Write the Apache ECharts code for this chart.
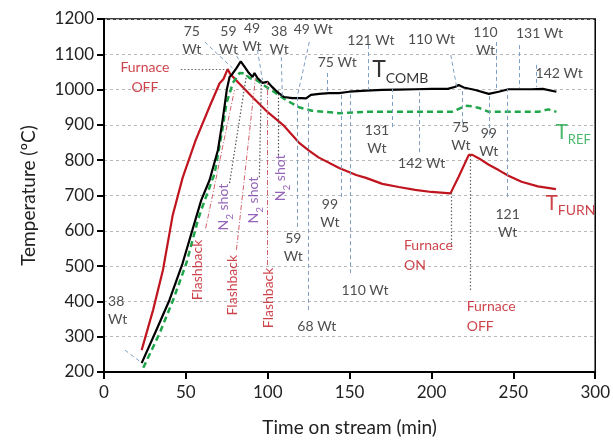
<!DOCTYPE html>
<html><head><meta charset="utf-8">
<script src="https://cdn.jsdelivr.net/npm/echarts@6/dist/echarts.min.js"></script>
<style>html,body{margin:0;padding:0;background:#fff}#c{width:613px;height:442px}</style>
</head><body><div id="c"></div>
<script>
// Axis ticks
const xTicks = [0, 50, 100, 150, 200, 250, 300];
const yTicks = [200, 300, 400, 500, 600, 700, 800, 900, 1000, 1100, 1200];

// T_FURN (red)
const furnTime = [23, 30, 36, 42, 48, 56, 64.5, 70.6, 73, 75.5, 77, 82, 90, 100, 110, 119, 125, 131, 143.6, 154, 160, 170, 180, 190, 200, 211.6, 216.6, 222.8, 225, 229, 235, 241, 247, 255, 265, 276];
const furnTemp = [262, 376, 489, 645, 750, 857, 952, 1018, 1030, 1058, 1045, 1020, 982, 936, 897, 850, 828, 808, 778, 758, 750, 733, 724, 716, 710, 706, 753, 815, 815, 805, 787, 772, 756, 739, 726, 718];

// T_COMB (black)
const combTime = [23, 32, 40, 48, 56.4, 59.4, 64.5, 69.6, 72, 73.6, 75, 76.7, 78.5, 80.8, 83.5, 85.8, 88, 90.7, 91.9, 93.7, 96.8, 99.8, 102.8, 105.9, 110, 115, 120.5, 123.4, 124.5, 126.4, 131.4, 137.5, 143.6, 149.7, 160, 170, 180, 190, 200, 210, 214.6, 216.6, 219.7, 226.8, 235, 241, 247, 255, 261, 268, 276.3];
const combTemp = [225, 319, 404, 508, 640, 687, 744, 829, 900, 952, 1000, 1036, 1045, 1060, 1080, 1065, 1050, 1036, 1047, 1033, 1019, 1022, 1007, 993, 979, 976, 976, 975, 971, 985, 988, 990, 990, 994, 997, 999, 1000, 1001, 1002, 1002, 1008, 1013, 1006, 999, 988, 994, 1001, 1001, 1001, 1002, 994];

// T_REF (green dashed)
const refTime = [24, 34, 42.2, 50.3, 57.4, 59.4, 67.6, 72.6, 74.7, 76.7, 78.7, 82.8, 85.8, 88.8, 93, 99, 105, 111, 119, 127, 135.5, 143.6, 160, 180, 200, 212.5, 217, 220.7, 224.6, 229, 235, 245, 255, 265.3, 271.4, 276.3];
const refTemp = [212, 310, 404, 508, 631, 659, 763, 895, 960, 989, 1019, 1047, 1046, 1033, 1027, 1008, 990, 971, 950, 940, 937, 933, 937, 937, 937, 937, 946, 954, 953, 948, 937, 937, 937, 937, 944, 937];

// Annotation leader lines [t1, T1, t2, T2]
const wtLeaders = [
  [12.8, 262, 22.5, 228],
  [61.5, 1135, 78.5, 1061],
  [81, 1095, 83.4, 1078],
  [93.7, 1112, 96.8, 1027],
  [108.3, 1092, 108.9, 979],
  [125.4, 1135, 118, 979],
  [136.3, 1047, 136.3, 990],
  [161.3, 1126, 161.3, 999],
  [211.8, 1098, 215.4, 1007],
  [239.8, 1135, 239.8, 999],
  [253.8, 1126, 253.8, 1005],
  [264.1, 1070, 264.1, 1007],
  [118, 611, 118, 979],
  [124.7, 376, 124.7, 971],
  [144.8, 696, 144.8, 990],
  [150.3, 480, 150.3, 993],
  [175.9, 894, 175.9, 1002],
  [192.3, 823, 192.3, 1002],
  [218.5, 905, 218.5, 1005],
  [235.5, 871, 235.5, 988],
  [246.5, 696, 246.5, 1002]
];
const flashLeaders = [
  [62.1, 607, 79.7, 999],
  [80.9, 546, 92.5, 1033],
  [99.8, 503, 99.8, 1022]
];
const n2Leaders = [
  [76.7, 735, 87, 1041],
  [94.9, 752, 96.1, 1027],
  [106.5, 815, 106.5, 999]
];
const furnaceLeaders = [
  [46.9, 1058, 75.5, 1058],
  [211.8, 554, 211.8, 707],
  [223.9, 432, 223.9, 815]
];

// Text labels [t, T, text]
const wtCenterLabels = [
  [53.6, 1138, '75\nWt'],
  [76, 1138, '59\nWt'],
  [90.4, 1149, '49\nWt'],
  [107, 1140, '38\nWt'],
  [127.8, 1169, '49 Wt'],
  [142.4, 1078, '75 Wt'],
  [163, 1140, '121 Wt'],
  [200, 1143, '110 Wt'],
  [233, 1135, '110\nWt'],
  [266, 1160, '131 Wt'],
  [166.7, 860, '131\nWt'],
  [218, 866, '75\nWt'],
  [235, 849, '99\nWt'],
  [194, 792, '142 Wt'],
  [138, 648, '99\nWt'],
  [115.6, 554, '59\nWt'],
  [159.4, 432, '110 Wt'],
  [130, 330, '68 Wt'],
  [246.5, 622, '121\nWt']
];
const wtLeftLabels = [
  [2.5, 375, '38\nWt'],
  [263.6, 1047, '142 Wt']
];
const furnaceLabels = [
  [25, 1035, 'Furnace\nOFF', 'center'],
  [183.2, 531, 'Furnace\nON', 'left'],
  [221.5, 356, 'Furnace\nOFF', 'left']
];
const flashLabels = [[57.2, 489], [78.5, 446], [100.4, 410]];
const n2Labels = [[74.2, 667], [92.5, 687], [109, 750]];
const seriesNames = [
  [163.8, 1050, 'COMB', '#000'],
  [275.7, 874, 'REF', '#1fa64a'],
  [269.6, 673, 'FURN', '#c0141e']
];

const FONT = 'Lato';
const RED = '#c0141e', GREEN = '#1fa64a', PURPLE = '#7a3ea8';
const zip = (a, b) => a.map((v, i) => [v, b[i]]);

function leaderLines(arr, style) {
  return arr.map(a => [{ coord: [a[0], a[1]], lineStyle: style }, { coord: [a[2], a[3]] }]);
}
function textSeries(items, label) {
  return {
    type: 'scatter', symbolSize: 1, itemStyle: { color: 'rgba(0,0,0,0)' }, silent: true, clip: false, z: 5,
    data: items,
    label: Object.assign({ show: true, position: 'inside', fontFamily: FONT, fontSize: 14, lineHeight: 18 }, label)
  };
}

const chart = echarts.init(document.getElementById('c'), null, { renderer: 'canvas' });
chart.setOption({
  animation: false,
  backgroundColor: '#fff',
  grid: { left: 104, right: 16, top: 19, bottom: 70, show: true, borderColor: '#000', borderWidth: 1.5, backgroundColor: 'transparent' },
  xAxis: {
    type: 'value', min: xTicks[0], max: xTicks[xTicks.length - 1], interval: 50,
    name: 'Time on stream (min)', nameLocation: 'middle', nameGap: 46,
    nameTextStyle: { fontFamily: FONT, fontSize: 19, color: '#222' },
    axisLine: { lineStyle: { color: '#000', width: 2 } },
    axisTick: { show: true, inside: false, length: 7, lineStyle: { color: '#000', width: 2 } },
    axisLabel: { fontFamily: FONT, fontSize: 17, color: '#222', margin: 12, formatter: v => String(v) },
    splitLine: { show: false }
  },
  yAxis: {
    type: 'value', min: yTicks[0], max: yTicks[yTicks.length - 1], interval: 100,
    name: 'Temperature (ºC)', nameLocation: 'middle', nameGap: 66,
    nameTextStyle: { fontFamily: FONT, fontSize: 19, color: '#222' },
    axisLine: { show: true, lineStyle: { color: '#000', width: 2 } },
    axisTick: { show: true, inside: false, length: 7, lineStyle: { color: '#000', width: 2 } },
    axisLabel: { fontFamily: FONT, fontSize: 17, color: '#222', margin: 10, formatter: v => String(v) },
    splitLine: { show: true, lineStyle: { color: '#b8b8b8', type: [3, 3], width: 1 } }
  },
  series: [
    {
      type: 'line', name: 'leaders', data: [], silent: true, z: 1,
      markLine: {
        silent: true, symbol: ['none', 'none'], label: { show: false }, animation: false,
        data: [].concat(
          leaderLines(wtLeaders, { color: '#7f9fc4', type: [4, 3], width: 1 }),
          leaderLines(flashLeaders, { color: '#d4606a', type: [5, 2, 1, 2], width: 1 }),
          leaderLines(n2Leaders, { color: '#555', type: [1.5, 2], width: 1.2 }),
          leaderLines(furnaceLeaders, { color: '#666', type: [1.5, 2], width: 1.2 })
        )
      }
    },
    { type: 'line', name: 'T_FURN', data: zip(furnTime, furnTemp), showSymbol: false, symbol: 'none', lineStyle: { color: RED, width: 2.2 }, z: 3 },
    { type: 'line', name: 'T_REF', data: zip(refTime, refTemp), showSymbol: false, symbol: 'none', lineStyle: { color: GREEN, width: 2.5, type: [6, 4] }, z: 3 },
    { type: 'line', name: 'T_COMB', data: zip(combTime, combTemp), showSymbol: false, symbol: 'none', lineStyle: { color: '#000', width: 2.2 }, z: 4 },
    textSeries(wtCenterLabels.map(a => ({ value: [a[0], a[1]], label: { formatter: a[2] } })), { color: '#222', align: 'center', verticalAlign: 'middle' }),
    textSeries(wtLeftLabels.map(a => ({ value: [a[0], a[1]], label: { formatter: a[2] } })), { color: '#222', align: 'left', verticalAlign: 'middle' }),
    textSeries(furnaceLabels.map(a => ({ value: [a[0], a[1]], label: { formatter: a[2], align: a[3] } })), { color: RED, verticalAlign: 'middle', lineHeight: 20 }),
    textSeries(flashLabels.map(a => ({ value: [a[0], a[1]], label: { formatter: 'Flashback' } })), { color: RED, rotate: 90, align: 'center', verticalAlign: 'middle' }),
    textSeries(n2Labels.map(a => ({ value: [a[0], a[1]], label: { formatter: '{n|N}{s|2}{n| shot}' } })), {
      color: PURPLE, rotate: 90, align: 'center', verticalAlign: 'middle',
      rich: { n: { fontFamily: FONT, fontSize: 14, color: PURPLE, lineHeight: 15, verticalAlign: 'top' }, s: { fontFamily: FONT, fontSize: 10, color: PURPLE, lineHeight: 18, verticalAlign: 'bottom' } }
    }),
    textSeries(seriesNames.map((a, i) => ({
      value: [a[0], a[1]],
      label: {
        formatter: '{t|T}{s|' + a[2] + '}',
        rich: {
          t: { fontFamily: FONT, fontSize: i === 0 ? 23 : 21, color: a[3], lineHeight: i === 0 ? 24 : 22, verticalAlign: 'top' },
          s: { fontFamily: FONT, fontSize: i === 1 ? 13 : 14, color: a[3], lineHeight: i === 0 ? 27 : 25, verticalAlign: 'bottom' }
        }
      }
    })), { align: 'left', verticalAlign: 'middle' })
  ]
});
</script>
</body></html>
